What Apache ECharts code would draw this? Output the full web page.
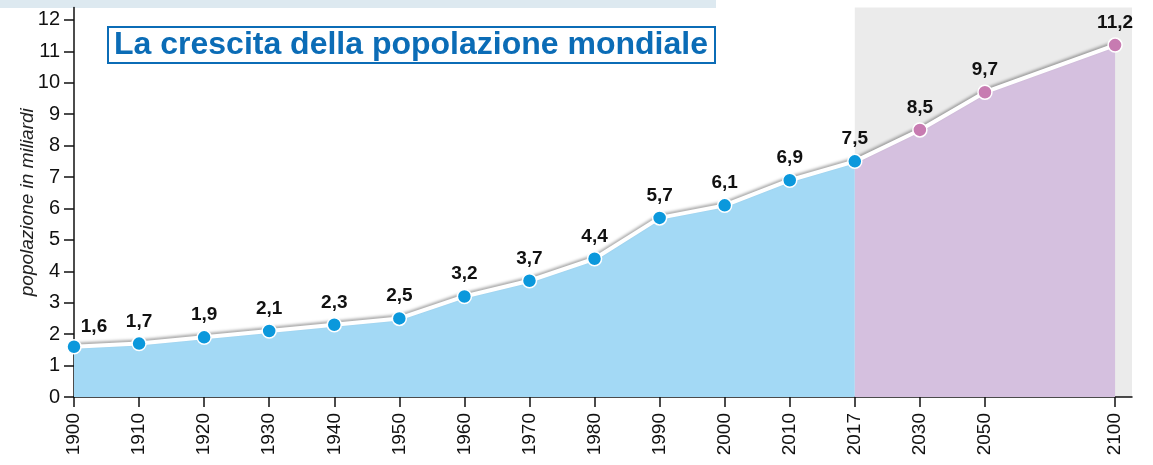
<!DOCTYPE html>
<html>
<head>
<meta charset="utf-8">
<script src="https://cdn.jsdelivr.net/npm/echarts@6/dist/echarts.min.js"></script>
<style>
  html, body { margin: 0; padding: 0; background: #fff; }
  #chart { width: 1153px; height: 465px; }
</style>
</head>
<body>
<div id="chart"></div>
<script>
// anni sull'asse x ('' = spazio vuoto tra 2050 e 2100)
var years = ["1900", "1910", "1920", "1930", "1940", "1950", "1960", "1970", "1980", "1990", "2000", "2010", "2017", "2030", "2050", "", "2100"];
// popolazione in miliardi
var popValues = [1.6, 1.7, 1.9, 2.1, 2.3, 2.5, 3.2, 3.7, 4.4, 5.7, 6.1, 6.9, 7.5, 8.5, 9.7, null, 11.2];
var yTicks = [0, 1, 2, 3, 4, 5, 6, 7, 8, 9, 10, 11, 12];
var lastObserved = "2017";

var FONT = "'Liberation Sans', Arial, sans-serif";
var splitIdx = years.indexOf(lastObserved);
var xMax = years.length - 1 + 0.26;

var allPoints = [];
var bluePoints = [];
var purplePoints = [];
for (var i = 0; i < years.length; i++) {
  if (popValues[i] == null) continue;
  allPoints.push({
    value: [i, popValues[i]],
    itemStyle: { color: i <= splitIdx ? "#0b98dc" : "#c77bb1" },
    label: i == 0 ? { offset: [20, 2] } : {},
  });
  if (i <= splitIdx) bluePoints.push([i, popValues[i]]);
  if (i >= splitIdx) purplePoints.push([i, popValues[i]]);
}
var labelIdx = [];
for (var j = 0; j < years.length; j++) {
  if (years[j] !== "") labelIdx.push(j);
}

var myChart = echarts.init(document.getElementById("chart"));
var option = {
  animation: false,
  title: {
    text: "La crescita della popolazione mondiale",
    left: 108,
    top: 27,
    padding: [2, 7, 1, 6],
    borderColor: "#0b6cb6",
    borderWidth: 2,
    backgroundColor: "#fff",
    textStyle: {
      color: "#0b6cb6",
      fontFamily: FONT,
      fontWeight: "bold",
      fontSize: 32,
      lineHeight: 33,
    },
  },
  graphic: [
    {
      type: "rect",
      z: -10,
      shape: { x: 0, y: 0, width: 716, height: 8 },
      style: { fill: "#dde9f0" },
    },
  ],
  grid: {
    left: 74,
    right: 21,
    top: 7.4,
    bottom: 68,
  },
  xAxis: {
    type: "value",
    min: 0,
    max: xMax,
    splitLine: { show: false },
    axisLine: { lineStyle: { color: "#111", width: 1.5 } },
    axisTick: {
      show: true,
      length: 10,
      customValues: labelIdx,
      lineStyle: { color: "#111", width: 1.5 },
    },
    axisLabel: {
      customValues: labelIdx,
      rotate: 90,
      margin: 16,
      color: "#111",
      fontFamily: FONT,
      fontSize: 19,
      formatter: function (v) {
        return years[Math.round(v)];
      },
    },
  },
  yAxis: {
    type: "value",
    min: 0,
    max: 12.4,
    name: "popolazione in miliardi",
    nameLocation: "middle",
    nameGap: 37,
    nameMoveOverlap: false,
    nameRotate: 90,
    nameTextStyle: {
      fontFamily: FONT,
      fontStyle: "italic",
      fontSize: 19,
      color: "#222",
    },
    splitLine: { show: false },
    axisLine: { show: true, lineStyle: { color: "#111", width: 1.5 } },
    axisTick: {
      show: true,
      length: 10,
      customValues: yTicks,
      lineStyle: { color: "#111", width: 1.5 },
    },
    axisLabel: {
      customValues: yTicks,
      margin: 14,
      color: "#111",
      fontFamily: FONT,
      fontSize: 20,
    },
  },
  series: [
    {
      // area storica
      type: "line",
      data: bluePoints,
      symbol: "none",
      lineStyle: { width: 0 },
      areaStyle: { color: "#a3d9f5", opacity: 1 },
      z: 2,
    },
    {
      // area delle previsioni
      type: "line",
      data: purplePoints,
      symbol: "none",
      lineStyle: { width: 0 },
      areaStyle: { color: "#d5c0df", opacity: 1 },
      z: 2,
      markArea: {
        silent: true,
        itemStyle: { color: "#ebebeb" },
        data: [[{ xAxis: splitIdx }, { xAxis: xMax }]],
        z: 0,
      },
    },
    {
      type: "line",
      data: allPoints,
      z: 5,
      symbol: "circle",
      symbolSize: 14,
      itemStyle: { borderColor: "#fff", borderWidth: 1.5 },
      lineStyle: {
        color: "#fff",
        width: 4,
        shadowColor: "rgba(0,0,0,0.35)",
        shadowBlur: 3,
        shadowOffsetY: -2,
      },
      label: {
        show: true,
        position: "top",
        distance: 5,
        color: "#111",
        fontFamily: FONT,
        fontWeight: "bold",
        fontSize: 19,
        formatter: function (p) {
          return String(p.value[1]).replace(".", ",");
        },
      },
    },
  ],
};
myChart.setOption(option);
</script>
</body>
</html>
